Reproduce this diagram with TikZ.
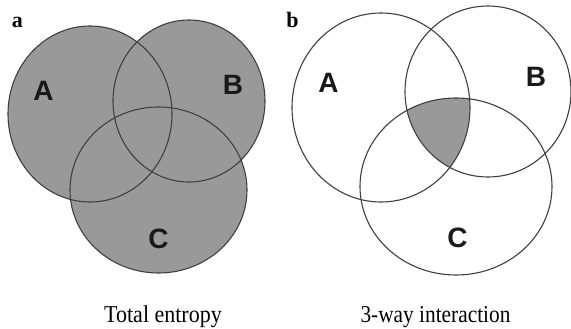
\documentclass[tikz,border=0pt]{standalone}
\usepackage{fontspec}
\usepackage{graphicx}
\setmainfont{Liberation Serif}
\newfontfamily\labfont{Liberation Sans}
\begin{document}
\begin{tikzpicture}[x=1pt,y=-1pt,
  ring/.style={draw=black!75,line width=1.1pt},
  setlab/.style={font=\labfont\bfseries\fontsize{28}{28}\selectfont,inner sep=0pt,text=black!90},
  panlab/.style={font=\bfseries\fontsize{22}{22}\selectfont,inner sep=0pt,anchor=base},
  captext/.style={font=\fontsize{22}{22}\selectfont,inner sep=0pt,anchor=base}]
\useasboundingbox (0,0) rectangle (571,329);
\fill[white] (0,0) rectangle (571,329);
% panel a
\fill[black!40] (90,114) ellipse [x radius=82,y radius=88];
\fill[black!40] (189,101) ellipse [x radius=76,y radius=81];
\fill[black!40] (158.5,190) ellipse [x radius=88.5,y radius=83];
\draw[ring] (90,114) ellipse [x radius=82,y radius=88];
\draw[ring] (189,101) ellipse [x radius=76,y radius=81];
\draw[ring] (158.5,190) ellipse [x radius=88.5,y radius=83];
\node[panlab] (pa) at (17.5,28) {a};
\node[setlab] (la) at (43.5,91) {A};
\node[setlab] (lb) at (233,84.5) {B};
\node[setlab] (lc) at (158.5,238.5) {C};
% panel b
\begin{scope}
\clip (381,107.5) ellipse [x radius=89,y radius=94.5];
\clip (488,91.5) ellipse [x radius=83,y radius=85.5];
\fill[black!40] (456,186.5) ellipse [x radius=96,y radius=88.5];
\end{scope}
\draw[ring] (381,107.5) ellipse [x radius=89,y radius=94.5];
\draw[ring] (488,91.5) ellipse [x radius=83,y radius=85.5];
\draw[ring] (456,186.5) ellipse [x radius=96,y radius=88.5];
\node[panlab] (pb) at (292.5,28) {b};
\node[setlab] (la2) at (328.5,82.5) {A};
\node[setlab] (lb2) at (536,76.5) {B};
\node[setlab] (lc2) at (457.5,238) {C};
% captions
\node[captext] (c1) at (163,322) {\scalebox{1}[1.1]{Total entropy}};
\node[captext] (c2) at (435.5,322) {\scalebox{0.97}[1.1]{3-way interaction}};
\end{tikzpicture}
\end{document}
